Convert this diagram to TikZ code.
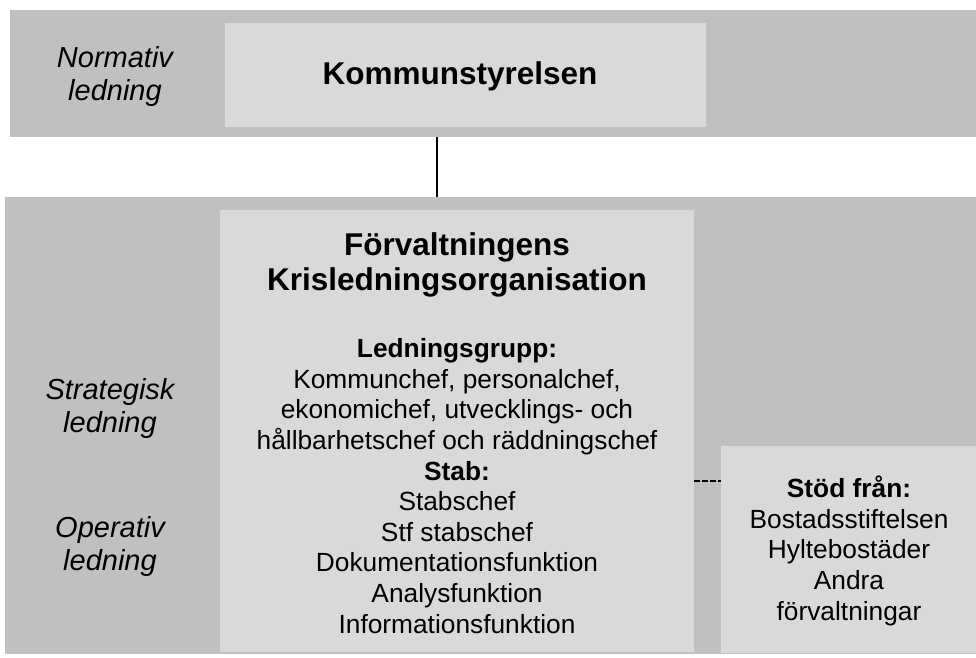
\documentclass[tikz,border=0pt]{standalone}
\usepackage{fontspec}
\setmainfont{Liberation Sans}
\usetikzlibrary{positioning}
\definecolor{bandgray}{RGB}{192,192,192}
\definecolor{boxgray}{RGB}{217,217,217}

\begin{document}
\begin{tikzpicture}[x=1pt,y=-1pt]
      \tikzstyle{band}=[fill=bandgray, inner sep=0pt, anchor=north west];
      \tikzstyle{box}=[fill=boxgray, inner sep=0pt, anchor=north west];
      \tikzstyle{lbl}=[align=center, anchor=base, font=\fontsize{29pt}{32.5pt}\selectfont\itshape];
      \tikzstyle{head}=[align=center, anchor=base, font=\fontsize{31.5pt}{35pt}\selectfont\bfseries];
      \tikzstyle{txt}=[align=center, anchor=base, font=\fontsize{26.3pt}{30.6pt}\selectfont];

      \useasboundingbox (0,0) rectangle (976,657);

      % bands
      \node (normband) at (10,10)[band, minimum width=966pt, minimum height=127pt]{};
      \node (krisband) at (5,197)[band, minimum width=971pt, minimum height=457pt]{};

      % boxes
      \node (kommun) at (225,23)[box, minimum width=481pt, minimum height=104pt]{};
      \node (krisorg) at (220,210)[box, minimum width=474pt, minimum height=442pt]{};
      \node (stod) at (721,446)[box, minimum width=255pt, minimum height=207pt]{};

      % level labels (base = last line)
      \node (normativ) at (115,100)[lbl]{Normativ\\ledning};
      \node (strategisk) at (110,432)[lbl]{Strategisk\\ledning};
      \node (operativ) at (110,570)[lbl]{Operativ\\ledning};

      % texts
      \node (kommuntxt) at (460,84)[head]{Kommunstyrelsen};
      \node (kristitle) at (457,290)[head]{Förvaltningens\\Krisledningsorganisation};
      \node (kristxt) at (457,633)[txt]{\textbf{Ledningsgrupp:}\\Kommunchef, personalchef,\\ekonomichef, utvecklings- och\\hållbarhetschef och räddningschef\\\textbf{Stab:}\\Stabschef\\Stf stabschef\\Dokumentationsfunktion\\Analysfunktion\\Informationsfunktion};
      \node (stodtxt) at (849,620)[txt]{\textbf{Stöd från:}\\Bostadsstiftelsen\\Hyltebostäder\\Andra\\förvaltningar};

      % connectors
      \coordinate (lnk) at (437,0);
      \coordinate (dsh) at (0,481);
      \draw [line width=1.3pt] (normband.south -| lnk) -- (krisband.north -| lnk);
      \draw [line width=1.2pt, dash pattern=on 6pt off 2pt] (krisorg.east |- dsh) -- (stod.west |- dsh);

    \end{tikzpicture}
\end{document}
